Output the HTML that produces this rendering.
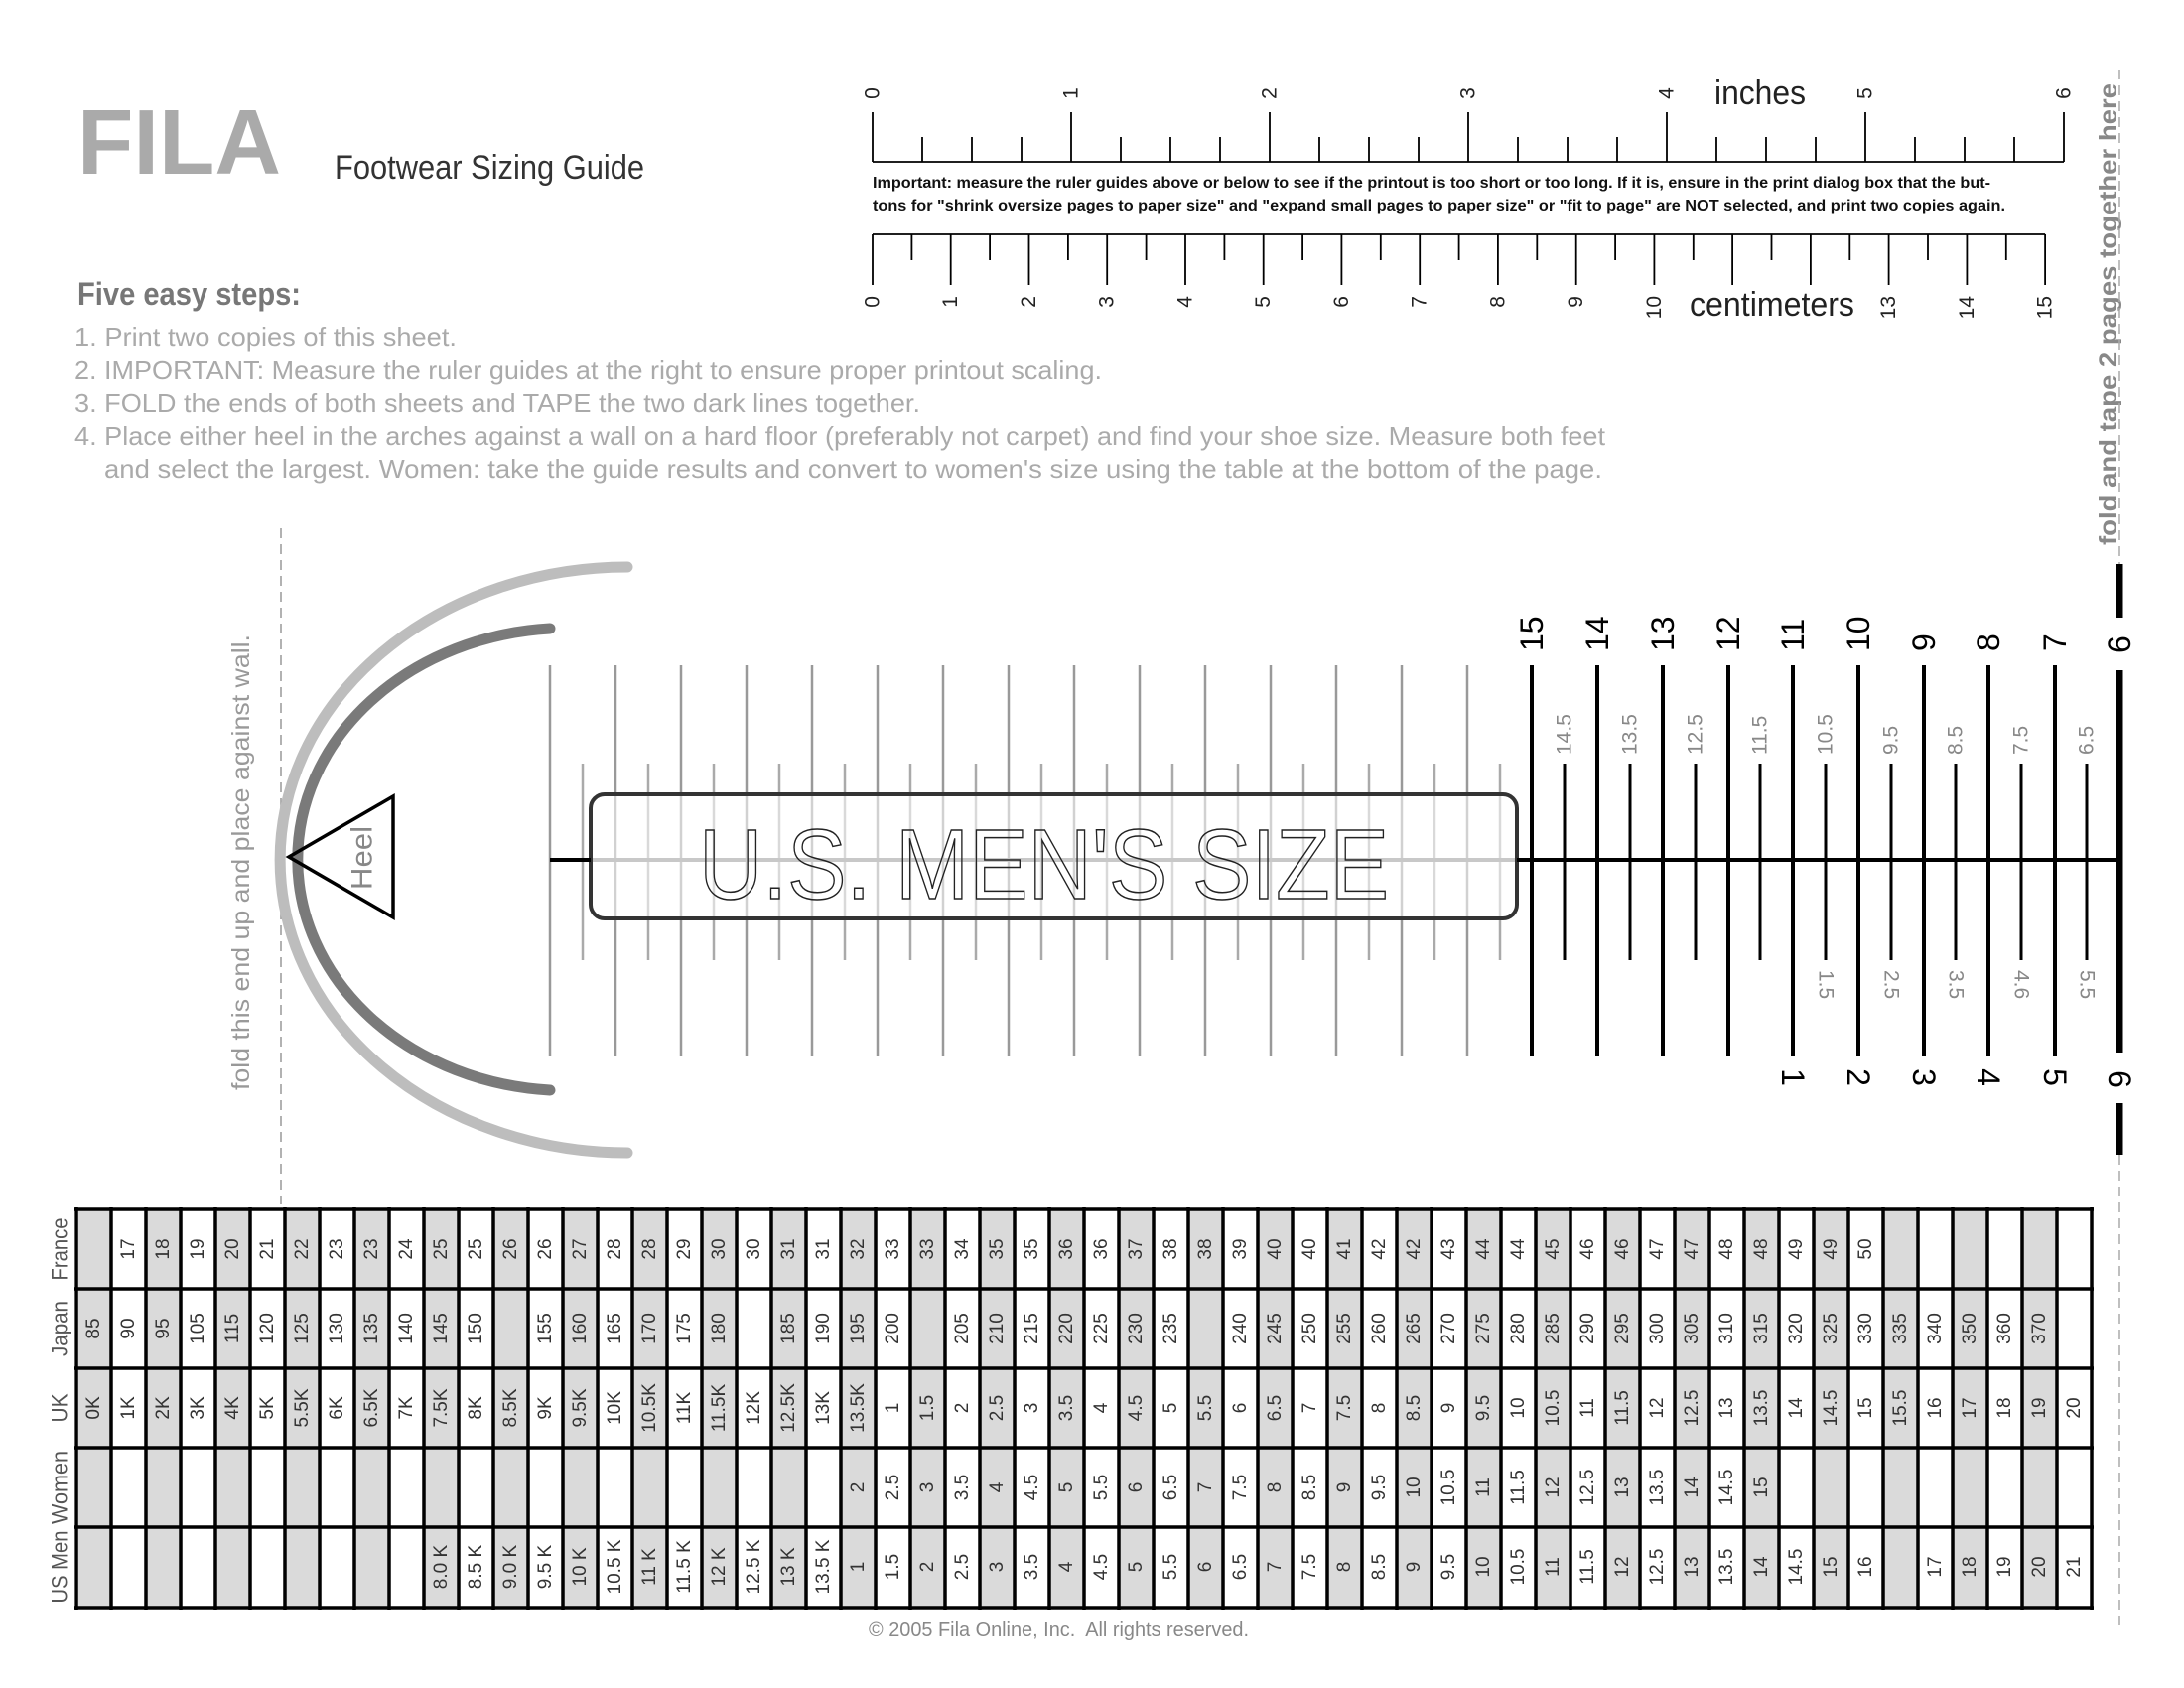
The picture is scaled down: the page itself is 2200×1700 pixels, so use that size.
<!DOCTYPE html>
<html><head><meta charset="utf-8"><style>
html,body{margin:0;padding:0;background:#fff;width:2200px;height:1700px;overflow:hidden}
svg{display:block;font-family:"Liberation Sans",sans-serif}
.c text{text-anchor:middle;dominant-baseline:central;font-size:19px;fill:#333}
</style></head><body>
<svg width="2200" height="1700" viewBox="0 0 2200 1700" xmlns="http://www.w3.org/2000/svg">
<defs>
<pattern id="shade" x="77" y="0" width="70" height="10" patternUnits="userSpaceOnUse"><rect width="35" height="10" fill="#dadada"/></pattern>
<pattern id="vl" x="75.25" y="0" width="35" height="10" patternUnits="userSpaceOnUse"><rect width="3.5" height="10" fill="#000"/></pattern>
</defs>

<text x="78" y="175" font-size="93" font-weight="bold" fill="#aaa" textLength="205" lengthAdjust="spacingAndGlyphs">FILA</text>
<text x="337" y="180" font-size="34" fill="#333" textLength="312" lengthAdjust="spacingAndGlyphs">Footwear Sizing Guide</text>
<text x="78" y="307" font-size="32" font-weight="bold" fill="#777" textLength="225" lengthAdjust="spacingAndGlyphs">Five easy steps:</text>
<g font-size="26" fill="#aaa" style="white-space:pre">
<text x="75" y="348" textLength="385" lengthAdjust="spacingAndGlyphs">1. Print two copies of this sheet.</text>
<text x="75" y="382" textLength="1035" lengthAdjust="spacingAndGlyphs">2. IMPORTANT: Measure the ruler guides at the right to ensure proper printout scaling.</text>
<text x="75" y="415" textLength="852" lengthAdjust="spacingAndGlyphs">3. FOLD the ends of both sheets and TAPE the two dark lines together.</text>
<text x="75" y="448" textLength="1542" lengthAdjust="spacingAndGlyphs">4. Place either heel in the arches against a wall on a hard floor (preferably not carpet) and find your shoe size.  Measure both feet</text>
<text x="105" y="481" textLength="1509" lengthAdjust="spacingAndGlyphs">and select the largest.  Women: take the guide results and convert to women's size using the table at the bottom of the page.</text>
</g>

<g stroke="#000" stroke-width="1.8" fill="none">
<path d="M879,163H2079 M879,113V163 M1079,113V163 M1279,113V163 M1479,113V163 M1679,113V163 M1879,113V163 M2079,113V163 M929,138V163 M979,138V163 M1029,138V163 M1129,138V163 M1179,138V163 M1229,138V163 M1329,138V163 M1379,138V163 M1429,138V163 M1529,138V163 M1579,138V163 M1629,138V163 M1729,138V163 M1779,138V163 M1829,138V163 M1929,138V163 M1979,138V163 M2029,138V163"/>
</g>
<g font-size="21" fill="#222" text-anchor="middle" dominant-baseline="central">
<text transform="translate(879,94) rotate(-90)">0</text>
<text transform="translate(1079,94) rotate(-90)">1</text>
<text transform="translate(1279,94) rotate(-90)">2</text>
<text transform="translate(1479,94) rotate(-90)">3</text>
<text transform="translate(1679,94) rotate(-90)">4</text>
<text transform="translate(1879,94) rotate(-90)">5</text>
<text transform="translate(2079,94) rotate(-90)">6</text>
</g>
<text x="1727" y="105" font-size="34" fill="#222" textLength="92" lengthAdjust="spacingAndGlyphs">inches</text>
<g font-size="16" font-weight="bold" fill="#111">
<text x="879" y="189" textLength="1126" lengthAdjust="spacingAndGlyphs">Important: measure the ruler guides above or below to see if the printout is too short or too long. If it is, ensure in the print dialog box that the but-</text>
<text x="879" y="212" textLength="1141" lengthAdjust="spacingAndGlyphs">tons for "shrink oversize pages to paper size" and "expand small pages to paper size" or "fit to page" are NOT selected, and print two copies again.</text>
</g>

<g stroke="#000" stroke-width="1.8" fill="none">
<path d="M879,236H2060.1 M879,236V287 M957.7,236V287 M1036.5,236V287 M1115.2,236V287 M1194,236V287 M1272.7,236V287 M1351.4,236V287 M1430.2,236V287 M1508.9,236V287 M1587.7,236V287 M1666.4,236V287 M1745.1,236V287 M1823.9,236V287 M1902.6,236V287 M1981.4,236V287 M2060.1,236V287 M918.4,236V262 M997.1,236V262 M1075.9,236V262 M1154.6,236V262 M1233.4,236V262 M1312.1,236V262 M1390.8,236V262 M1469.6,236V262 M1548.3,236V262 M1627.1,236V262 M1705.8,236V262 M1784.5,236V262 M1863.3,236V262 M1942,236V262 M2020.8,236V262"/>
</g>
<g font-size="21" fill="#222" text-anchor="end" dominant-baseline="central">
<text transform="translate(879,298) rotate(-90)">0</text>
<text transform="translate(957.7,298) rotate(-90)">1</text>
<text transform="translate(1036.5,298) rotate(-90)">2</text>
<text transform="translate(1115.2,298) rotate(-90)">3</text>
<text transform="translate(1194,298) rotate(-90)">4</text>
<text transform="translate(1272.7,298) rotate(-90)">5</text>
<text transform="translate(1351.4,298) rotate(-90)">6</text>
<text transform="translate(1430.2,298) rotate(-90)">7</text>
<text transform="translate(1508.9,298) rotate(-90)">8</text>
<text transform="translate(1587.7,298) rotate(-90)">9</text>
<text transform="translate(1666.4,298) rotate(-90)">10</text>
<text transform="translate(1902.6,298) rotate(-90)">13</text>
<text transform="translate(1981.4,298) rotate(-90)">14</text>
<text transform="translate(2060.1,298) rotate(-90)">15</text>
</g>
<text x="1702" y="318" font-size="34" fill="#222" textLength="166" lengthAdjust="spacingAndGlyphs">centimeters</text>

<text transform="translate(2124,549) rotate(-90)" font-size="25" font-weight="bold" fill="#888" dominant-baseline="central" textLength="465" lengthAdjust="spacingAndGlyphs">fold and tape 2 pages together here</text>
<path d="M2135,70V568 M2135,1163V1638" stroke="#aaa" stroke-width="1.5" stroke-dasharray="10,6"/>
<path d="M2135,568V622 M2135,675V1060 M2135,1111V1163" stroke="#000" stroke-width="7"/>

<path d="M283,532V1213" stroke="#999" stroke-width="1.5" stroke-dasharray="10,6"/>
<text transform="translate(243,1098) rotate(-90)" font-size="25" fill="#999" dominant-baseline="central" textLength="459" lengthAdjust="spacingAndGlyphs">fold this end up and place against wall.</text>

<path d="M632,571 A350,295 0 0 0 632,1161" stroke="#bdbdbd" stroke-width="11" fill="none" stroke-linecap="round"/>
<path d="M554,633 A272,233 0 0 0 554,1098" stroke="#7a7a7a" stroke-width="11" fill="none" stroke-linecap="round"/>
<polygon points="291,863 396,802 396,924" fill="none" stroke="#000" stroke-width="3.5"/>
<text transform="translate(365,864) rotate(-90)" font-size="30" fill="#888" text-anchor="middle" dominant-baseline="central" textLength="64" lengthAdjust="spacingAndGlyphs">Heel</text>

<path stroke="#999" stroke-width="2.5" d="M554,670V1064 M620,670V1064 M686,670V1064 M752,670V1064 M818,670V1064 M884,670V1064 M950,670V1064 M1016,670V1064 M1082,670V1064 M1148,670V1064 M1214,670V1064 M1280,670V1064 M1346,670V1064 M1412,670V1064 M1478,670V1064"/>
<path stroke="#aaa" stroke-width="2.5" d="M587,769V967 M653,769V967 M719,769V967 M785,769V967 M851,769V967 M917,769V967 M983,769V967 M1049,769V967 M1115,769V967 M1181,769V967 M1247,769V967 M1313,769V967 M1379,769V967 M1445,769V967 M1511,769V967"/>

<rect x="595" y="800" width="933" height="125" rx="14" fill="#fff" fill-opacity="0.55" stroke="#333" stroke-width="4"/>
<path d="M597,866H1526" stroke="#c8c8c8" stroke-width="4"/>
<path d="M554,866H595 M1528,866H2135" stroke="#000" stroke-width="4"/>
<text x="704" y="905" font-size="100" fill="none" stroke="#222" stroke-width="1.5" textLength="695" lengthAdjust="spacingAndGlyphs">U.S. MEN'S SIZE</text>

<path stroke="#000" stroke-width="4" d="M1543,670V1064 M1609,670V1064 M1675,670V1064 M1741,670V1064 M1806,670V1064 M1872,670V1064 M1938,670V1064 M2003,670V1064 M2070,670V1064"/>
<path stroke="#000" stroke-width="3" d="M1576,769V967 M1642,769V967 M1708,769V967 M1773,769V967 M1839,769V967 M1905,769V967 M1970,769V967 M2036,769V967 M2102,769V967"/>
<g font-size="32" fill="#000" dominant-baseline="central">
<text transform="translate(1543,656) rotate(-90)">15</text>
<text transform="translate(1609,656) rotate(-90)">14</text>
<text transform="translate(1675,656) rotate(-90)">13</text>
<text transform="translate(1741,656) rotate(-90)">12</text>
<text transform="translate(1806,656) rotate(-90)">11</text>
<text transform="translate(1872,656) rotate(-90)">10</text>
<text transform="translate(1938,656) rotate(-90)">9</text>
<text transform="translate(2003,656) rotate(-90)">8</text>
<text transform="translate(2070,656) rotate(-90)">7</text>
<text transform="translate(2135,658) rotate(-90)">6</text>
</g>
<g font-size="32" fill="#000" text-anchor="middle" dominant-baseline="central">
<text transform="translate(1806,1085) rotate(90)">1</text>
<text transform="translate(1872,1085) rotate(90)">2</text>
<text transform="translate(1938,1085) rotate(90)">3</text>
<text transform="translate(2003,1085) rotate(90)">4</text>
<text transform="translate(2070,1085) rotate(90)">5</text>
<text transform="translate(2135,1087) rotate(90)">6</text>
</g>
<g font-size="21" fill="#888" dominant-baseline="central">
<text transform="translate(1576,760) rotate(-90)">14.5</text>
<text transform="translate(1642,760) rotate(-90)">13.5</text>
<text transform="translate(1708,760) rotate(-90)">12.5</text>
<text transform="translate(1773,760) rotate(-90)">11.5</text>
<text transform="translate(1839,760) rotate(-90)">10.5</text>
<text transform="translate(1905,760) rotate(-90)">9.5</text>
<text transform="translate(1970,760) rotate(-90)">8.5</text>
<text transform="translate(2036,760) rotate(-90)">7.5</text>
<text transform="translate(2102,760) rotate(-90)">6.5</text>
<text transform="translate(1839,977) rotate(90)">1.5</text>
<text transform="translate(1905,977) rotate(90)">2.5</text>
<text transform="translate(1970,977) rotate(90)">3.5</text>
<text transform="translate(2036,977) rotate(90)">4.6</text>
<text transform="translate(2102,977) rotate(90)">5.5</text>
</g>

<rect x="77" y="1218" width="2030" height="401" fill="url(#shade)"/>
<rect x="75.25" y="1216" width="2035" height="405" fill="url(#vl)"/>
<path stroke="#000" stroke-width="3.5" d="M75,1218H2109 M75,1298H2109 M75,1378H2109 M75,1458H2109 M75,1538H2109 M75,1619H2109"/>
<g transform="rotate(-90)" font-size="22" fill="#555" text-anchor="middle" dominant-baseline="central">
<text x="-1258" y="60" textLength="63" lengthAdjust="spacingAndGlyphs">France</text>
<text x="-1338" y="60" textLength="56" lengthAdjust="spacingAndGlyphs">Japan</text>
<text x="-1418" y="60" textLength="29" lengthAdjust="spacingAndGlyphs">UK</text>
<text x="-1498" y="60" textLength="74" lengthAdjust="spacingAndGlyphs">Women</text>
<text x="-1578" y="60" textLength="73" lengthAdjust="spacingAndGlyphs">US Men</text>
</g>
<g class="c" transform="rotate(-90)">
<text x="-1258" y="129.5">17</text><text x="-1258" y="164.5">18</text><text x="-1258" y="199.5">19</text><text x="-1258" y="234.5">20</text><text x="-1258" y="269.5">21</text><text x="-1258" y="304.5">22</text><text x="-1258" y="339.5">23</text><text x="-1258" y="374.5">23</text><text x="-1258" y="409.5">24</text><text x="-1258" y="444.5">25</text><text x="-1258" y="479.5">25</text><text x="-1258" y="514.5">26</text><text x="-1258" y="549.5">26</text><text x="-1258" y="584.5">27</text><text x="-1258" y="619.5">28</text><text x="-1258" y="654.5">28</text><text x="-1258" y="689.5">29</text><text x="-1258" y="724.5">30</text><text x="-1258" y="759.5">30</text><text x="-1258" y="794.5">31</text><text x="-1258" y="829.5">31</text><text x="-1258" y="864.5">32</text><text x="-1258" y="899.5">33</text><text x="-1258" y="934.5">33</text><text x="-1258" y="969.5">34</text><text x="-1258" y="1004.5">35</text><text x="-1258" y="1039.5">35</text><text x="-1258" y="1074.5">36</text><text x="-1258" y="1109.5">36</text><text x="-1258" y="1144.5">37</text><text x="-1258" y="1179.5">38</text><text x="-1258" y="1214.5">38</text><text x="-1258" y="1249.5">39</text><text x="-1258" y="1284.5">40</text><text x="-1258" y="1319.5">40</text><text x="-1258" y="1354.5">41</text><text x="-1258" y="1389.5">42</text><text x="-1258" y="1424.5">42</text><text x="-1258" y="1459.5">43</text><text x="-1258" y="1494.5">44</text><text x="-1258" y="1529.5">44</text><text x="-1258" y="1564.5">45</text><text x="-1258" y="1599.5">46</text><text x="-1258" y="1634.5">46</text><text x="-1258" y="1669.5">47</text><text x="-1258" y="1704.5">47</text><text x="-1258" y="1739.5">48</text><text x="-1258" y="1774.5">48</text><text x="-1258" y="1809.5">49</text><text x="-1258" y="1844.5">49</text><text x="-1258" y="1879.5">50</text>
<text x="-1338" y="94.5">85</text><text x="-1338" y="129.5">90</text><text x="-1338" y="164.5">95</text><text x="-1338" y="199.5">105</text><text x="-1338" y="234.5">115</text><text x="-1338" y="269.5">120</text><text x="-1338" y="304.5">125</text><text x="-1338" y="339.5">130</text><text x="-1338" y="374.5">135</text><text x="-1338" y="409.5">140</text><text x="-1338" y="444.5">145</text><text x="-1338" y="479.5">150</text><text x="-1338" y="549.5">155</text><text x="-1338" y="584.5">160</text><text x="-1338" y="619.5">165</text><text x="-1338" y="654.5">170</text><text x="-1338" y="689.5">175</text><text x="-1338" y="724.5">180</text><text x="-1338" y="794.5">185</text><text x="-1338" y="829.5">190</text><text x="-1338" y="864.5">195</text><text x="-1338" y="899.5">200</text><text x="-1338" y="969.5">205</text><text x="-1338" y="1004.5">210</text><text x="-1338" y="1039.5">215</text><text x="-1338" y="1074.5">220</text><text x="-1338" y="1109.5">225</text><text x="-1338" y="1144.5">230</text><text x="-1338" y="1179.5">235</text><text x="-1338" y="1249.5">240</text><text x="-1338" y="1284.5">245</text><text x="-1338" y="1319.5">250</text><text x="-1338" y="1354.5">255</text><text x="-1338" y="1389.5">260</text><text x="-1338" y="1424.5">265</text><text x="-1338" y="1459.5">270</text><text x="-1338" y="1494.5">275</text><text x="-1338" y="1529.5">280</text><text x="-1338" y="1564.5">285</text><text x="-1338" y="1599.5">290</text><text x="-1338" y="1634.5">295</text><text x="-1338" y="1669.5">300</text><text x="-1338" y="1704.5">305</text><text x="-1338" y="1739.5">310</text><text x="-1338" y="1774.5">315</text><text x="-1338" y="1809.5">320</text><text x="-1338" y="1844.5">325</text><text x="-1338" y="1879.5">330</text><text x="-1338" y="1914.5">335</text><text x="-1338" y="1949.5">340</text><text x="-1338" y="1984.5">350</text><text x="-1338" y="2019.5">360</text><text x="-1338" y="2054.5">370</text>
<text x="-1418" y="94.5">0K</text><text x="-1418" y="129.5">1K</text><text x="-1418" y="164.5">2K</text><text x="-1418" y="199.5">3K</text><text x="-1418" y="234.5">4K</text><text x="-1418" y="269.5">5K</text><text x="-1418" y="304.5">5.5K</text><text x="-1418" y="339.5">6K</text><text x="-1418" y="374.5">6.5K</text><text x="-1418" y="409.5">7K</text><text x="-1418" y="444.5">7.5K</text><text x="-1418" y="479.5">8K</text><text x="-1418" y="514.5">8.5K</text><text x="-1418" y="549.5">9K</text><text x="-1418" y="584.5">9.5K</text><text x="-1418" y="619.5">10K</text><text x="-1418" y="654.5">10.5K</text><text x="-1418" y="689.5">11K</text><text x="-1418" y="724.5">11.5K</text><text x="-1418" y="759.5">12K</text><text x="-1418" y="794.5">12.5K</text><text x="-1418" y="829.5">13K</text><text x="-1418" y="864.5">13.5K</text><text x="-1418" y="899.5">1</text><text x="-1418" y="934.5">1.5</text><text x="-1418" y="969.5">2</text><text x="-1418" y="1004.5">2.5</text><text x="-1418" y="1039.5">3</text><text x="-1418" y="1074.5">3.5</text><text x="-1418" y="1109.5">4</text><text x="-1418" y="1144.5">4.5</text><text x="-1418" y="1179.5">5</text><text x="-1418" y="1214.5">5.5</text><text x="-1418" y="1249.5">6</text><text x="-1418" y="1284.5">6.5</text><text x="-1418" y="1319.5">7</text><text x="-1418" y="1354.5">7.5</text><text x="-1418" y="1389.5">8</text><text x="-1418" y="1424.5">8.5</text><text x="-1418" y="1459.5">9</text><text x="-1418" y="1494.5">9.5</text><text x="-1418" y="1529.5">10</text><text x="-1418" y="1564.5">10.5</text><text x="-1418" y="1599.5">11</text><text x="-1418" y="1634.5">11.5</text><text x="-1418" y="1669.5">12</text><text x="-1418" y="1704.5">12.5</text><text x="-1418" y="1739.5">13</text><text x="-1418" y="1774.5">13.5</text><text x="-1418" y="1809.5">14</text><text x="-1418" y="1844.5">14.5</text><text x="-1418" y="1879.5">15</text><text x="-1418" y="1914.5">15.5</text><text x="-1418" y="1949.5">16</text><text x="-1418" y="1984.5">17</text><text x="-1418" y="2019.5">18</text><text x="-1418" y="2054.5">19</text><text x="-1418" y="2089.5">20</text>
<text x="-1498" y="864.5">2</text><text x="-1498" y="899.5">2.5</text><text x="-1498" y="934.5">3</text><text x="-1498" y="969.5">3.5</text><text x="-1498" y="1004.5">4</text><text x="-1498" y="1039.5">4.5</text><text x="-1498" y="1074.5">5</text><text x="-1498" y="1109.5">5.5</text><text x="-1498" y="1144.5">6</text><text x="-1498" y="1179.5">6.5</text><text x="-1498" y="1214.5">7</text><text x="-1498" y="1249.5">7.5</text><text x="-1498" y="1284.5">8</text><text x="-1498" y="1319.5">8.5</text><text x="-1498" y="1354.5">9</text><text x="-1498" y="1389.5">9.5</text><text x="-1498" y="1424.5">10</text><text x="-1498" y="1459.5">10.5</text><text x="-1498" y="1494.5">11</text><text x="-1498" y="1529.5">11.5</text><text x="-1498" y="1564.5">12</text><text x="-1498" y="1599.5">12.5</text><text x="-1498" y="1634.5">13</text><text x="-1498" y="1669.5">13.5</text><text x="-1498" y="1704.5">14</text><text x="-1498" y="1739.5">14.5</text><text x="-1498" y="1774.5">15</text>
<text x="-1578" y="444.5">8.0 K</text><text x="-1578" y="479.5">8.5 K</text><text x="-1578" y="514.5">9.0 K</text><text x="-1578" y="549.5">9.5 K</text><text x="-1578" y="584.5">10 K</text><text x="-1578" y="619.5">10.5 K</text><text x="-1578" y="654.5">11 K</text><text x="-1578" y="689.5">11.5 K</text><text x="-1578" y="724.5">12 K</text><text x="-1578" y="759.5">12.5 K</text><text x="-1578" y="794.5">13 K</text><text x="-1578" y="829.5">13.5 K</text><text x="-1578" y="864.5">1</text><text x="-1578" y="899.5">1.5</text><text x="-1578" y="934.5">2</text><text x="-1578" y="969.5">2.5</text><text x="-1578" y="1004.5">3</text><text x="-1578" y="1039.5">3.5</text><text x="-1578" y="1074.5">4</text><text x="-1578" y="1109.5">4.5</text><text x="-1578" y="1144.5">5</text><text x="-1578" y="1179.5">5.5</text><text x="-1578" y="1214.5">6</text><text x="-1578" y="1249.5">6.5</text><text x="-1578" y="1284.5">7</text><text x="-1578" y="1319.5">7.5</text><text x="-1578" y="1354.5">8</text><text x="-1578" y="1389.5">8.5</text><text x="-1578" y="1424.5">9</text><text x="-1578" y="1459.5">9.5</text><text x="-1578" y="1494.5">10</text><text x="-1578" y="1529.5">10.5</text><text x="-1578" y="1564.5">11</text><text x="-1578" y="1599.5">11.5</text><text x="-1578" y="1634.5">12</text><text x="-1578" y="1669.5">12.5</text><text x="-1578" y="1704.5">13</text><text x="-1578" y="1739.5">13.5</text><text x="-1578" y="1774.5">14</text><text x="-1578" y="1809.5">14.5</text><text x="-1578" y="1844.5">15</text><text x="-1578" y="1879.5">16</text><text x="-1578" y="1949.5">17</text><text x="-1578" y="1984.5">18</text><text x="-1578" y="2019.5">19</text><text x="-1578" y="2054.5">20</text><text x="-1578" y="2089.5">21</text>
</g>

<text x="875" y="1648" font-size="20" fill="#888" textLength="383" lengthAdjust="spacingAndGlyphs" style="white-space:pre">© 2005 Fila Online, Inc.  All rights reserved.</text>
</svg>
</body></html>
